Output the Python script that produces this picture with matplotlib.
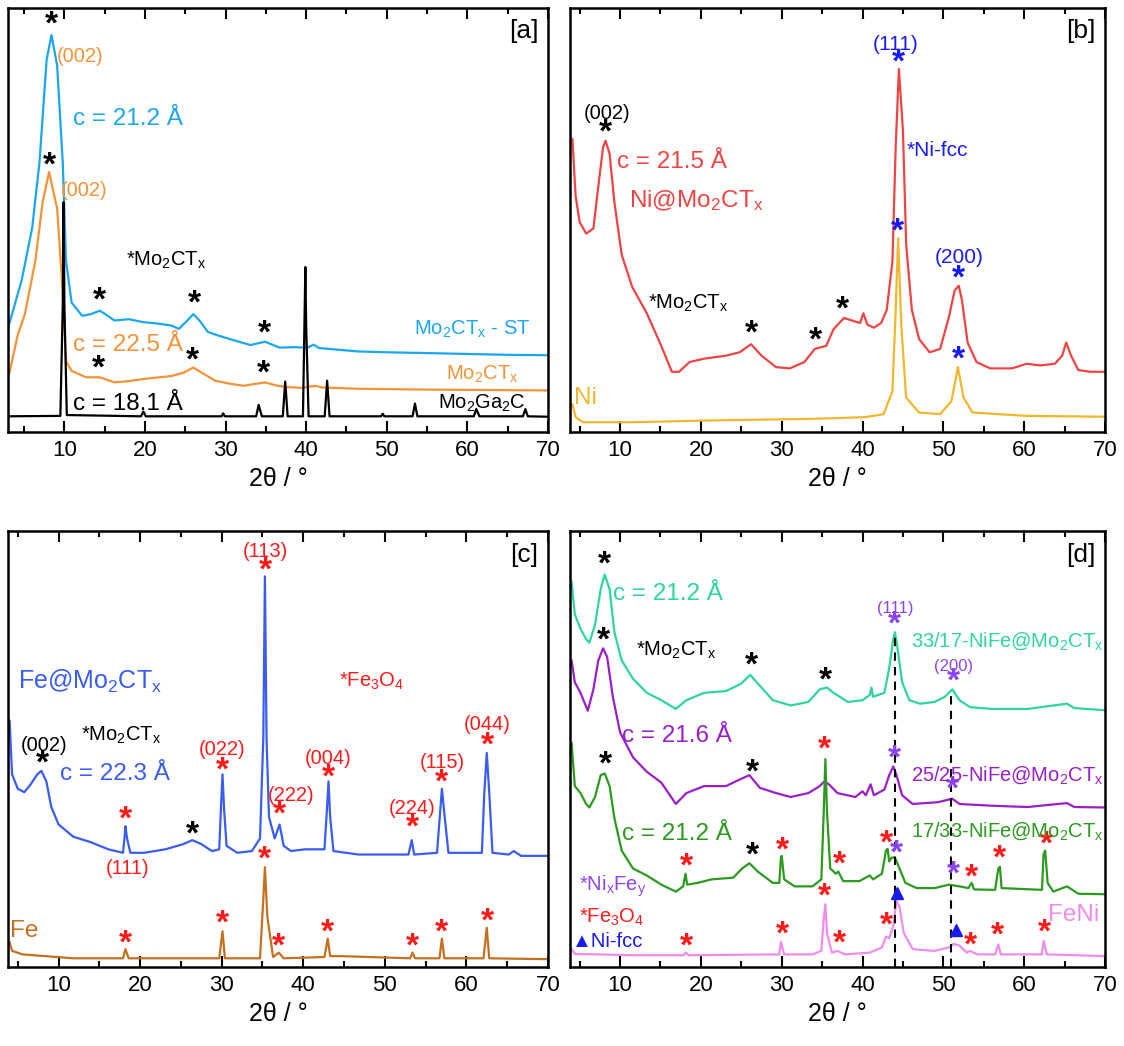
import numpy as np
import matplotlib
matplotlib.use("Agg")
import matplotlib.pyplot as plt
from matplotlib.ticker import MultipleLocator

plt.rcParams['font.family'] = ['Liberation Sans', 'DejaVu Sans']
plt.rcParams['mathtext.default'] = 'regular'

# ---------------- data (2theta in deg, intensity in % of frame height) -------------
# panel a
a_st_x = [3.1, 4.7, 6.0, 6.9, 7.8, 8.4, 9.1, 9.8, 10.2, 10.9, 12.2, 13.3, 14.4, 15.3, 16.2, 18.0, 19.8, 21.5,
          23.3, 24.2, 25.2, 26.0, 26.8, 27.8, 29.0, 30.9, 33.1, 34.9, 36.7, 38.5, 40.2, 40.9, 41.6, 44.0, 46.4,
          50.0, 55.3, 60.0, 65.0, 70.0]
a_st_y = [25.1, 35.8, 48.1, 63.4, 87.9, 93.6, 86.4, 63.4, 40.4, 30.5, 27.4, 27.8, 28.6, 27.5, 26.3, 26.6, 25.9,
          25.6, 25.1, 24.3, 26.2, 27.8, 26.2, 23.6, 22.8, 21.7, 20.5, 21.3, 19.9, 20.0, 19.9, 20.6, 19.8, 19.4,
          19.0, 18.8, 18.6, 18.4, 18.2, 18.1]
a_mo_x = [3.1, 4.2, 5.1, 6.4, 7.3, 8.1, 9.1, 9.8, 10.2, 10.9, 12.7, 14.4, 16.2, 18.0, 19.8, 23.3, 24.8, 26.0,
          27.2, 28.7, 30.5, 32.2, 34.9, 36.2, 37.6, 39.5, 41.1, 42.0, 46.4, 55.0, 70.0]
a_mo_y = [13.2, 22.8, 27.8, 40.4, 54.2, 61.3, 52.7, 32.8, 16.7, 14.4, 12.9, 12.9, 11.7, 12.0, 12.5, 13.2, 14.0,
          15.2, 13.8, 12.1, 11.4, 10.9, 11.7, 11.0, 10.6, 10.4, 10.9, 10.5, 10.2, 10.0, 9.8]
a_ga_x = [3.0, 9.5, 9.8, 9.9, 10.0, 10.3, 19.5, 19.8, 20.1, 29.5, 29.7, 29.9, 33.8, 34.1, 34.5, 37.1, 37.4, 37.7,
          39.6, 39.9, 40.0, 40.3, 42.3, 42.6, 42.9, 49.3, 49.5, 49.7, 53.2, 53.5, 53.8, 60.8, 61.1, 61.5, 66.9,
          67.2, 67.5, 70.0]
a_ga_y = [3.7, 3.8, 30.0, 54.2, 30.0, 4.0, 3.7, 4.8, 3.7, 3.7, 4.4, 3.7, 3.7, 6.4, 3.7, 3.7, 11.9, 3.7,
          3.7, 38.9, 25.0, 3.7, 3.7, 12.1, 3.7, 3.7, 4.3, 3.7, 3.7, 6.7, 3.7, 3.7, 5.4, 3.7, 3.7,
          5.4, 3.7, 3.6]

# panel b
b_ni_mo_x = [4.1, 4.5, 5.0, 5.8, 6.7, 7.3, 7.9, 8.2, 8.7, 9.3, 10.2, 11.5, 13.3, 15.1, 16.4, 17.3, 18.6, 20.4,
             23.1, 24.8, 26.2, 27.5, 29.3, 31.0, 32.8, 34.1, 35.5, 36.4, 37.7, 39.0, 39.7, 40.1, 40.6, 41.4,
             42.3, 43.0, 43.7, 44.1, 44.5, 45.0, 45.4, 46.1, 47.0, 48.3, 49.6, 50.7, 51.4, 51.9, 52.3, 53.0,
             54.1, 55.8, 58.5, 60.3, 62.0, 63.8, 64.7, 65.2, 65.8, 66.7, 68.2, 70.0]
b_ni_mo_y = [69.1, 55.6, 49.5, 46.8, 48.0, 57.9, 67.2, 68.7, 65.6, 54.1, 41.8, 34.2, 28.0, 20.3, 14.2, 14.2,
             16.5, 17.3, 18.0, 18.8, 20.7, 18.0, 15.3, 15.0, 16.5, 19.6, 20.3, 24.2, 26.9, 26.1, 25.7, 28.0,
             25.3, 24.6, 25.7, 28.8, 40.3, 67.2, 85.6, 71.0, 44.1, 28.8, 21.9, 18.8, 19.6, 27.2, 33.4, 34.5,
             31.1, 21.1, 16.5, 15.0, 15.0, 16.1, 15.7, 16.1, 18.0, 21.1, 18.0, 14.6, 14.2, 14.2]
b_ni_x = [4.1, 4.5, 5.4, 11.5, 20.4, 33.7, 40.3, 42.6, 43.7, 44.1, 44.4, 44.8, 45.4, 47.0, 49.6, 51.0, 51.8,
          52.5, 53.6, 60.3, 70.0]
b_ni_y = [6.5, 3.5, 2.3, 2.3, 2.7, 3.1, 3.5, 4.2, 9.6, 28.8, 45.7, 24.9, 8.1, 4.6, 4.2, 7.3, 15.3, 8.1, 4.6,
          3.8, 3.6]

# panel c
c_fe_mo_x = [4.0, 4.3, 5.0, 5.8, 6.5, 7.4, 7.9, 8.5, 9.1, 10.0, 11.8, 14.0, 16.1, 17.9, 18.1, 18.2, 18.4,
             18.8, 20.5, 23.1, 25.3, 26.4, 27.5, 28.8, 29.7, 29.9, 30.1, 30.3, 30.6, 31.9, 33.7, 34.7, 35.1,
             35.3, 35.5, 35.8, 36.5, 37.1, 37.6, 38.5, 40.2, 41.1, 42.6, 42.9, 43.1, 43.3, 43.7, 46.8, 48.5,
             52.9, 53.3, 53.6, 56.4, 56.8, 57.0, 57.3, 57.8, 61.9, 62.2, 62.5, 62.8, 63.2, 65.2, 65.8, 66.7,
             70.0]
c_fe_mo_y = [56.5, 44.2, 40.9, 40.1, 41.7, 44.2, 45.0, 42.6, 36.8, 32.7, 29.9, 28.6, 27.0, 26.2, 29.9, 32.3,
             29.5, 26.2, 26.2, 27.0, 28.2, 29.1, 28.2, 26.6, 27.0, 36.0, 44.2, 36.0, 27.8, 26.2, 26.6, 29.5,
             52.4, 89.6, 52.4, 34.4, 29.5, 32.7, 27.8, 26.6, 27.0, 27.0, 27.0, 36.0, 42.6, 34.4, 26.6, 25.8,
             25.8, 25.8, 29.1, 25.8, 26.2, 36.0, 40.9, 35.2, 26.2, 26.2, 40.1, 49.1, 40.1, 26.2, 25.8, 26.6,
             25.5, 25.5]
c_fe_x = [4.0, 4.3, 5.6, 11.8, 17.9, 18.2, 18.6, 29.7, 30.1, 30.4, 34.7, 35.1, 35.3, 35.6, 36.3, 37.0, 37.6,
          42.6, 43.0, 43.3, 44.6, 53.1, 53.4, 53.7, 56.7, 57.0, 57.3, 62.1, 62.5, 62.8, 70.0]
c_fe_y = [5.7, 3.7, 2.9, 2.0, 2.0, 4.1, 2.0, 2.0, 8.2, 2.0, 2.0, 15.5, 22.9, 11.5, 2.3, 3.3, 2.0, 2.3, 6.5,
          2.5, 2.5, 2.0, 3.3, 2.0, 2.0, 6.5, 2.0, 2.0, 9.0, 2.0, 1.8]

# panel d
d_3317_x = [4.0, 4.4, 5.1, 5.8, 6.2, 6.9, 7.6, 8.1, 8.7, 9.3, 10.2, 11.6, 13.3, 15.1, 16.9, 18.2, 20.4, 23.1,
            24.9, 26.1, 27.3, 28.9, 31.1, 33.3, 34.7, 35.6, 36.4, 38.2, 40.0, 40.9, 41.1, 41.3, 42.7, 43.3,
            43.8, 44.0, 44.3, 44.9, 45.8, 47.1, 48.9, 50.2, 51.1, 52.0, 53.3, 56.0, 60.4, 65.3, 66.2, 70.0]
d_3317_y = [88.3, 80.9, 77.6, 75.2, 74.4, 78.5, 86.7, 90.0, 86.7, 76.8, 70.3, 66.1, 62.9, 61.2, 59.2, 61.2,
            62.9, 63.3, 64.9, 67.0, 64.5, 61.2, 60.0, 60.8, 63.7, 64.1, 62.9, 60.8, 61.2, 62.4, 64.1, 62.0,
            62.9, 68.6, 75.2, 76.8, 73.5, 65.3, 61.2, 60.4, 60.8, 62.0, 63.7, 61.2, 59.6, 59.2, 59.2, 60.4,
            59.4, 58.9]
d_2525_x = [4.0, 4.4, 5.1, 6.0, 6.7, 7.3, 7.9, 8.4, 9.1, 10.0, 11.6, 13.3, 15.1, 16.9, 18.2, 20.4, 23.1, 24.9,
            26.0, 27.3, 29.3, 31.1, 33.3, 34.7, 35.3, 35.9, 36.9, 39.1, 40.0, 40.4, 41.0, 41.4, 42.7, 43.3,
            43.8, 44.2, 44.9, 46.2, 49.3, 51.1, 52.0, 56.0, 60.4, 65.3, 66.2, 70.0]
d_2525_y = [70.3, 65.3, 62.9, 58.8, 63.7, 70.3, 73.1, 71.1, 62.0, 53.8, 48.1, 44.8, 42.3, 37.4, 39.9, 41.5,
            41.5, 43.1, 44.0, 41.1, 39.9, 39.0, 39.9, 41.5, 42.6, 41.8, 39.9, 39.0, 40.3, 39.4, 41.9, 39.4,
            40.7, 44.0, 46.0, 44.0, 39.4, 37.4, 37.8, 38.6, 37.4, 37.0, 36.7, 37.6, 36.7, 36.6]
d_1733_x = [4.0, 4.4, 5.1, 5.8, 6.2, 6.9, 7.6, 8.1, 8.7, 9.3, 10.2, 11.6, 13.3, 15.1, 16.9, 17.8, 18.1, 18.3,
            19.6, 21.3, 24.0, 25.1, 26.0, 27.1, 28.9, 29.7, 29.9, 30.0, 30.3, 31.6, 33.8, 34.9, 35.2, 35.4,
            35.6, 36.0, 36.7, 37.0, 37.6, 39.6, 40.9, 41.3, 42.4, 42.9, 43.1, 43.3, 43.6, 44.0, 44.4, 45.3,
            46.7, 48.9, 50.7, 52.0, 53.1, 53.5, 53.8, 56.4, 56.8, 57.0, 57.2, 62.2, 62.4, 62.6, 62.9, 63.6,
            65.3, 66.7, 70.0]
d_1733_y = [51.4, 41.5, 39.9, 37.4, 36.6, 39.0, 44.0, 44.4, 41.5, 34.1, 26.7, 22.6, 21.0, 18.9, 17.3, 18.5,
            21.4, 18.9, 19.3, 20.1, 20.5, 22.6, 23.8, 21.8, 19.3, 19.3, 25.1, 25.5, 20.1, 18.5, 18.5, 20.1,
            35.7, 47.7, 35.7, 22.6, 21.4, 21.9, 19.7, 19.7, 21.0, 20.1, 21.4, 26.7, 27.1, 24.2, 25.1, 25.1,
            23.4, 19.3, 18.1, 18.1, 18.9, 18.5, 18.1, 19.3, 17.8, 17.7, 22.6, 23.0, 18.1, 17.7, 25.9, 26.7,
            19.3, 17.3, 18.5, 16.8, 16.7]
d_feni_x = [4.0, 4.4, 7.1, 11.6, 17.8, 18.1, 18.5, 29.7, 29.9, 30.3, 33.8, 34.9, 35.2, 35.4, 35.6, 36.2, 36.9,
            37.8, 40.9, 42.4, 42.9, 43.3, 43.8, 44.2, 44.6, 45.1, 46.2, 48.9, 50.7, 51.3, 52.0, 52.9, 53.3,
            54.2, 56.4, 56.8, 57.1, 62.2, 62.4, 62.8, 70.0]
d_feni_y = [4.1, 3.0, 2.9, 2.7, 2.7, 3.3, 2.7, 2.9, 5.8, 2.9, 2.9, 3.7, 11.1, 14.4, 7.8, 3.3, 3.7, 2.9, 3.3,
            4.5, 7.0, 6.6, 9.4, 15.2, 13.6, 7.8, 4.1, 3.7, 4.5, 5.3, 4.9, 3.3, 3.7, 2.9, 2.9, 5.2, 2.9, 2.9,
            6.0, 2.9, 2.5]

# star markers (x, y)
a_stars = [(8.4, 96.0), (8.1, 62.6), (14.4, 30.9), (26.1, 30.1), (34.8, 23.2), (14.2, 14.8), (25.9, 16.7),
           (34.7, 13.6)]
b_stars_black = [(8.2, 70.6), (26.3, 23.0), (34.2, 21.5), (37.5, 28.8)]
b_stars_blue = [(44.5, 87.1), (44.3, 47.2), (51.9, 36.1), (51.9, 16.9)]
c_stars_black = [(8.0, 46.6), (26.4, 30.3)]
c_stars_red = [(35.4, 90.8), (30.1, 45.0), (37.1, 34.8), (43.1, 43.4), (53.4, 31.9), (57.0, 42.1),
               (62.6, 50.7), (18.2, 33.6), (18.2, 5.3), (30.1, 9.8), (35.3, 24.5), (37.0, 4.5), (43.0, 7.8),
               (53.4, 4.5), (57.0, 7.8), (62.6, 10.2)]
c_hkl = [("(113)", 35.4, 95.3), ("(022)", 30.1, 49.9), ("(222)", 38.5, 39.3), ("(004)", 43.0, 47.9),
         ("(224)", 53.4, 36.4), ("(115)", 57.0, 46.8), ("(044)", 62.6, 55.6), ("(111)", 18.4, 22.5)]
d_stars_black = [(8.1, 92.1), (7.9, 74.8), (26.2, 69.0), (35.4, 65.7), (8.2, 46.4), (26.4, 44.4),
                 (26.4, 25.5)]
d_stars_purple = [(44.0, 78.5), (51.2, 65.3), (43.9, 47.7), (51.1, 40.7), (44.2, 25.9), (51.3, 21.0)]
d_stars_red = [(35.3, 49.7), (43.0, 28.3), (62.7, 27.9), (56.9, 24.7), (53.5, 20.5), (30.1, 26.7),
               (37.1, 23.4), (18.2, 23.0), (18.2, 4.5), (30.1, 7.4), (35.3, 16.0), (37.1, 5.3), (43.0, 9.4),
               (53.3, 4.9), (56.7, 7.0), (62.5, 7.8)]
d_tri_x = [44.3, 51.6]
d_tri_y = [17.0, 8.4]
d_dash_x = [44.0, 51.0]
d_dash_top = [76.0, 63.3]

# colours
C_ST = '#1aa7ef'
C_MO = '#f39237'
C_RED = '#ef4444'
C_NI = '#f0b62c'
C_BLUE = '#1a1af5'
C_FEMO = '#3b5cf2'
C_FE = '#c4701e'
C_STAR = '#ff1a1a'
C_TEAL = '#2fd49f'
C_PURP = '#9b1fc8'
C_PURPL = '#8b44f2'
C_GREEN = '#2b9a1f'
C_PINK = '#ee8cee'

MO = 'Mo$_2$CT$_x$'
FS_C = 17.5   # "c = .." labels
FS_T = 14.5   # other annotations

fig = plt.figure(figsize=(11.24, 10.46), dpi=100)
ax_a = fig.add_axes([0.0071, 0.587, 0.4804, 0.4054])
ax_b = fig.add_axes([0.5071, 0.587, 0.476, 0.4054])
ax_c = fig.add_axes([0.0071, 0.0755, 0.4804, 0.4168])
ax_d = fig.add_axes([0.5071, 0.0755, 0.476, 0.4168])


def setup(ax, xmin, tag):
    ax.set_xlim(xmin, 70)
    ax.set_ylim(0, 100)
    ax.set_yticks([])
    ax.xaxis.set_major_locator(MultipleLocator(10))
    ax.xaxis.set_minor_locator(MultipleLocator(5))
    ax.tick_params(axis='x', which='both', direction='in', top=True, bottom=True, width=1.5,
                   labelsize=16, pad=6)
    ax.tick_params(axis='x', which='major', length=8)
    ax.tick_params(axis='x', which='minor', length=4)
    for s in ax.spines.values():
        s.set_linewidth(1.8)
    ax.set_xlabel('2θ / °', fontsize=18, labelpad=4)
    ax.text(0.955, 0.945, tag, transform=ax.transAxes, fontsize=19, ha='center', va='center')


def stars(ax, pts, color, size=24):
    for x, y in pts:
        ax.text(x, y, '*', color=color, fontsize=size, ha='center', va='center', fontweight='bold')


lw = 1.6
# ---- a ----
setup(ax_a, 3.0, '[a]')
ax_a.plot(a_st_x, a_st_y, color=C_ST, lw=lw)
ax_a.plot(a_mo_x, a_mo_y, color=C_MO, lw=lw)
ax_a.plot(a_ga_x, a_ga_y, color='black', lw=lw)
stars(ax_a, a_stars, 'black')
ax_a.text(9.1, 88.5, '(002)', color=C_MO, fontsize=FS_T, ha='left', va='center')
ax_a.text(9.6, 56.9, '(002)', color=C_MO, fontsize=FS_T, ha='left', va='center')
ax_a.text(11.1, 73.7, 'c = 21.2 Å', color=C_ST, fontsize=FS_C, ha='left', va='center')
ax_a.text(11.1, 20.5, 'c = 22.5 Å', color=C_MO, fontsize=FS_C, ha='left', va='center')
ax_a.text(11.1, 6.7, 'c = 18.1 Å', color='black', fontsize=FS_C, ha='left', va='center')
ax_a.text(17.6, 40.4, '*' + MO, color='black', fontsize=FS_T, ha='left', va='center')
ax_a.text(67.8, 24.3, MO + ' - ST', color=C_ST, fontsize=FS_T, ha='right', va='center')
ax_a.text(66.4, 13.6, MO, color=C_MO, fontsize=FS_T, ha='right', va='center')
ax_a.text(67.2, 6.7, 'Mo$_2$Ga$_2$C', color='black', fontsize=FS_T, ha='right', va='center')

# ---- b ----
setup(ax_b, 3.8, '[b]')
ax_b.plot(b_ni_mo_x, b_ni_mo_y, color=C_RED, lw=lw)
ax_b.plot(b_ni_x, b_ni_y, color=C_NI, lw=lw)
stars(ax_b, b_stars_black, 'black')
stars(ax_b, b_stars_blue, C_BLUE)
ax_b.text(8.45, 75.2, '(002)', color='black', fontsize=FS_T, ha='center', va='center')
ax_b.text(9.6, 63.7, 'c = 21.5 Å', color=C_RED, fontsize=FS_C, ha='left', va='center')
ax_b.text(11.1, 54.5, 'Ni@' + MO, color=C_RED, fontsize=FS_C, ha='left', va='center')
ax_b.text(13.5, 30.3, '*' + MO, color='black', fontsize=FS_T, ha='left', va='center')
ax_b.text(44.1, 91.3, '(111)', color=C_BLUE, fontsize=15, ha='center', va='center')
ax_b.text(45.4, 66.4, '*Ni-fcc', color=C_BLUE, fontsize=15, ha='left', va='center')
ax_b.text(51.9, 41.1, '(200)', color=C_BLUE, fontsize=15, ha='center', va='center')
ax_b.text(5.7, 8.1, 'Ni', color=C_NI, fontsize=FS_C, ha='center', va='center')

# ---- c ----
setup(ax_c, 3.8, '[c]')
ax_c.plot(c_fe_mo_x, c_fe_mo_y, color=C_FEMO, lw=lw)
ax_c.plot(c_fe_x, c_fe_y, color=C_FE, lw=lw)
stars(ax_c, c_stars_black, 'black')
stars(ax_c, c_stars_red, C_STAR)
for lab, x, y in c_hkl:
    ax_c.text(x, y, lab, color=C_STAR, fontsize=FS_T, ha='center', va='center')
ax_c.text(5.0, 65.5, 'Fe@' + MO, color=C_FEMO, fontsize=18, ha='left', va='center')
ax_c.text(44.4, 65.5, '*Fe$_3$O$_4$', color=C_STAR, fontsize=FS_T, ha='left', va='center')
ax_c.text(12.8, 53.2, '*' + MO, color='black', fontsize=FS_T, ha='left', va='center')
ax_c.text(8.2, 50.9, '(002)', color='black', fontsize=FS_T, ha='center', va='center')
ax_c.text(10.2, 44.2, 'c = 22.3 Å', color=C_FEMO, fontsize=FS_C, ha='left', va='center')
ax_c.text(5.8, 8.2, 'Fe', color=C_FE, fontsize=FS_C, ha='center', va='center')

# ---- d ----
setup(ax_d, 3.8, '[d]')
ax_d.plot(d_3317_x, d_3317_y, color=C_TEAL, lw=lw)
ax_d.plot(d_2525_x, d_2525_y, color=C_PURP, lw=lw)
ax_d.plot(d_1733_x, d_1733_y, color=C_GREEN, lw=lw)
ax_d.plot(d_feni_x, d_feni_y, color=C_PINK, lw=lw)
ax_d.vlines(d_dash_x, 0, d_dash_top, colors='black', linestyles=(0, (4, 3)), lw=1.5)
stars(ax_d, d_stars_black, 'black')
stars(ax_d, d_stars_purple, C_PURPL)
stars(ax_d, d_stars_red, C_STAR)
ax_d.plot(d_tri_x, d_tri_y, '^', color=C_BLUE, ms=9, ls='none')
ax_d.text(9.1, 85.5, 'c = 21.2 Å', color=C_TEAL, fontsize=FS_C, ha='left', va='center')
ax_d.text(44.0, 82.2, '(111)', color=C_PURPL, fontsize=12, ha='center', va='center')
ax_d.text(51.3, 69.0, '(200)', color=C_PURPL, fontsize=12, ha='center', va='center')
ax_d.text(69.8, 74.8, '33/17-NiFe@' + MO, color=C_TEAL, fontsize=FS_T, ha='right', va='center')
ax_d.text(12.0, 72.7, '*' + MO, color='black', fontsize=FS_T, ha='left', va='center')
ax_d.text(10.2, 53.0, 'c = 21.6 Å', color=C_PURP, fontsize=FS_C, ha='left', va='center')
ax_d.text(69.8, 44.0, '25/25-NiFe@' + MO, color=C_PURP, fontsize=FS_T, ha='right', va='center')
ax_d.text(69.8, 31.2, '17/33-NiFe@' + MO, color=C_GREEN, fontsize=FS_T, ha='right', va='center')
ax_d.text(10.2, 30.4, 'c = 21.2 Å', color=C_GREEN, fontsize=FS_C, ha='left', va='center')
ax_d.text(4.9, 18.5, '*Ni$_x$Fe$_y$', color=C_PURPL, fontsize=FS_T, ha='left', va='center')
ax_d.text(4.9, 11.5, '*Fe$_3$O$_4$', color=C_STAR, fontsize=FS_T, ha='left', va='center')
ax_d.text(4.1, 5.8, '▲Ni-fcc', color=C_BLUE, fontsize=FS_T, ha='left', va='center')
ax_d.text(69.3, 11.9, 'FeNi', color=C_PINK, fontsize=FS_C, ha='right', va='center')

fig.savefig('out.png', dpi=100)
